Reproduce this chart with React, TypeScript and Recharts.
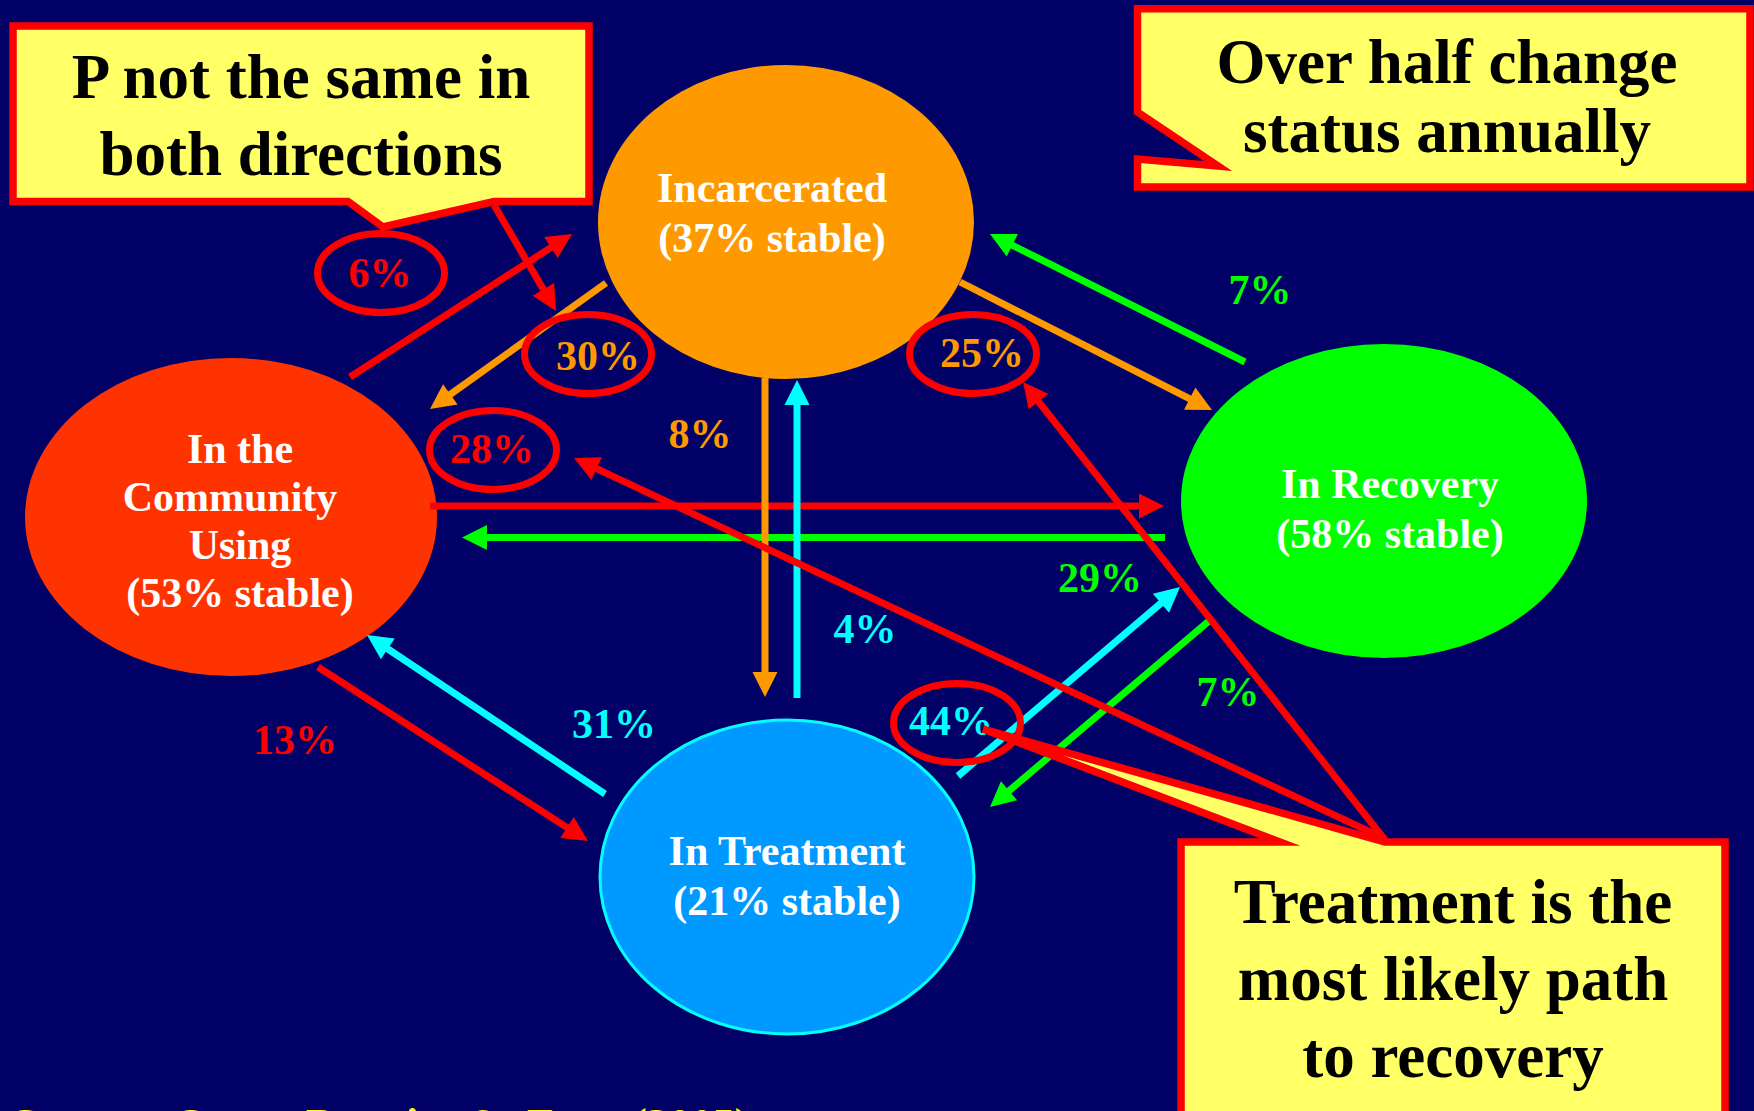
import React from 'react';
import { ScatterChart, Scatter, XAxis, YAxis, ReferenceArea, ReferenceLine, ReferenceDot } from 'recharts';

// ---------------- data (values & text) ----------------
const STATE_LINES: string[][] = [['Incarcerated'], ['In the', 'Community', 'Using'], ['In Recovery'], ['In Treatment']];
const STABLE_PCT: number[] = [37, 53, 58, 21];

// transitions: from state index -> to state index, annual %
const FROM: number[] = [1, 0, 0, 2, 1, 2, 0, 3, 3, 1, 3, 2];
const TO: number[] = [0, 1, 2, 0, 2, 1, 3, 0, 1, 3, 2, 3];
const PCT: number[] = [6, 30, 25, 7, 28, 29, 8, 4, 31, 13, 44, 7];
const CIRCLED: boolean[] = [true, true, true, false, true, false, false, false, false, false, true, false];

const CALLOUT_TEXT: string[][] = [
  ['P not the same in', 'both directions'],
  ['Over half change', 'status annually'],
  ['Treatment is the', 'most likely path', 'to recovery'],
];
const SOURCE_TEXT = 'Source: Scott, Dennis, & Foss (2005)';

// ---------------- layout (diagram coordinates) & styles ----------------
const W = 1754;
const H = 1111;
const SERIF = "'Liberation Serif', 'Times New Roman', serif";
const BG = '#000066';
const RED = '#FF0000';
const YELLOW = '#FFFF66';
const STATE_FILL = ['#FF9900', '#FF3300', '#00FF00', '#0099FF'];
const STATE_ARROW = ['#FF9900', '#FF0000', '#00FF00', '#00FFFF'];

const NODE_BOX = [
  { cx: 786, cy: 222, rx: 188, ry: 157, tx: 772, ty: 202, lh: 50 },
  { cx: 231, cy: 517, rx: 206, ry: 159, tx: 240, ty: 463, lh: 48 },
  { cx: 1384, cy: 501, rx: 203, ry: 157, tx: 1390, ty: 498, lh: 50 },
  { cx: 787, cy: 877, rx: 187, ry: 157, tx: 787, ty: 865, lh: 50 },
];
const NODE_LINE_DX: number[][] = [[0, 0], [0, -10, 0, 0], [0, 0], [0, 0]];

const ARROW_SEG: number[][] = [
  [350, 377, 572, 234],
  [606, 283, 430, 409],
  [960, 282, 1212, 410],
  [1245, 362, 990, 234],
  [430, 506, 1164, 506],
  [1165, 537.5, 462, 537.5],
  [765, 378, 765, 697],
  [797, 698, 797, 380],
  [605, 794, 367, 635],
  [318, 667, 588, 841],
  [958, 776, 1180, 587],
  [1209, 621, 990, 807],
];
const LABEL_XY: number[][] = [
  [380, 287], [598, 370], [982, 367], [1260, 304], [492, 463], [1100, 592],
  [700, 448], [865, 643], [614, 738], [295, 754], [951, 735], [1228, 706],
];
const RING_XY: (number[] | null)[] = [
  [381, 273], [588, 354], [973, 354], null, [493, 450], null, null, null, null, null, [957, 723], null,
];
const RING_RX = 63.5;
const RING_RY = 39.5;

const CALLOUT_ARROWS: number[][] = [
  [494, 205, 556, 311],
  [1383, 838, 574, 458],
  [1385, 840, 1023, 382],
];

const CALLOUT_SHAPES: { pts: { x: number; y: number }[]; closed: boolean }[] = [
  {
    closed: true,
    pts: [
      { x: 13, y: 26 }, { x: 589, y: 26 }, { x: 589, y: 201.5 }, { x: 494, y: 201.5 },
      { x: 383, y: 227 }, { x: 348, y: 201.5 }, { x: 13, y: 201.5 },
    ],
  },
  {
    closed: true,
    pts: [
      { x: 1137.5, y: 8.8 }, { x: 1750, y: 8.8 }, { x: 1750, y: 187 }, { x: 1137.5, y: 187 },
      { x: 1137.5, y: 159 }, { x: 1218, y: 166 }, { x: 1137.5, y: 112 },
    ],
  },
  {
    closed: false,
    pts: [
      { x: 1181, y: 1111 }, { x: 1181, y: 842 }, { x: 1280, y: 842 }, { x: 983, y: 729 },
      { x: 1385, y: 842 }, { x: 1725, y: 842 }, { x: 1725, y: 1111 },
    ],
  },
];
const CALLOUT_TEXT_POS = [
  { x: 301, y: 98, lh: 77 },
  { x: 1447, y: 83, lh: 69 },
  { x: 1453, y: 923, lh: 77 },
];

// ---------------- shapes ----------------
const arrowShape = (color: string) => (p: any) => {
  const { x1, y1, x2, y2 } = p;
  const dx = x2 - x1;
  const dy = y2 - y1;
  const len = Math.hypot(dx, dy) || 1;
  const ux = dx / len;
  const uy = dy / len;
  const HL = 25;
  const HW = 12.5;
  const bx = x2 - ux * HL;
  const by = y2 - uy * HL;
  return (
    <g>
      <line x1={x1} y1={y1} x2={bx + ux * 3} y2={by + uy * 3} stroke={color} strokeWidth={7} />
      <polygon
        points={`${x2},${y2} ${bx - uy * HW},${by + ux * HW} ${bx + uy * HW},${by - ux * HW}`}
        fill={color}
      />
    </g>
  );
};

const ellipseShape = (fill: string, stroke: string, sw: number) => (p: any) => {
  const w = Math.abs(p.width);
  const h = Math.abs(p.height);
  const x = Math.min(p.x, p.x + p.width);
  const y = Math.min(p.y, p.y + p.height);
  return <ellipse cx={x + w / 2} cy={y + h / 2} rx={w / 2} ry={h / 2} fill={fill} stroke={stroke} strokeWidth={sw} />;
};

const textShape = (
  lines: string[],
  color: string,
  size: number,
  lh: number,
  anchor: string,
  dxs?: number[],
  wordSpacing?: number
) => (p: any) => (
  <text
    x={p.cx}
    y={p.cy}
    textAnchor={anchor}
    fill={color}
    fontSize={size}
    fontWeight="bold"
    fontFamily={SERIF}
    style={wordSpacing ? { wordSpacing: `${wordSpacing}px` } : undefined}
  >
    {lines.map((l, i) => (
      <tspan key={i} x={p.cx + (dxs ? dxs[i] || 0 : 0)} dy={i === 0 ? 0 : lh}>
        {l}
      </tspan>
    ))}
  </text>
);

const calloutLine = (closed: boolean) => (props: any) => {
  const pts: { x: number; y: number }[] = props.points || [];
  const d = pts.map((q, i) => `${i ? 'L' : 'M'}${q.x},${q.y}`).join(' ');
  return (
    <g>
      <path d={`${d} Z`} fill={YELLOW} stroke="none" />
      <path d={closed ? `${d} Z` : d} fill="none" stroke={RED} strokeWidth={7.5} strokeLinejoin="miter" strokeMiterlimit={10} />
    </g>
  );
};

const noDot = () => <g />;

export default function App() {
  return (
    <div style={{ position: 'absolute', left: 0, top: 0, width: W, height: H, background: BG, overflow: 'hidden' }}>
      <ScatterChart width={W} height={H} margin={{ top: 0, right: 0, bottom: 0, left: 0 }}>
        <XAxis type="number" dataKey="x" domain={[0, W]} hide scale="linear" allowDataOverflow />
        <YAxis type="number" dataKey="y" domain={[0, H]} reversed hide scale="linear" allowDataOverflow />

        {/* state nodes */}
        {NODE_BOX.map((n, i) => (
          <ReferenceArea
            key={`node-${i}`}
            x1={n.cx - n.rx}
            x2={n.cx + n.rx}
            y1={n.cy - n.ry}
            y2={n.cy + n.ry}
            zIndex={10}
            shape={ellipseShape(STATE_FILL[i], i === 3 ? '#00FFFF' : 'none', i === 3 ? 3 : 0)}
          />
        ))}
        {NODE_BOX.map((n, i) => (
          <ReferenceDot
            key={`node-text-${i}`}
            x={n.tx}
            y={n.ty}
            zIndex={20}
            shape={textShape([...STATE_LINES[i], `(${STABLE_PCT[i]}% stable)`], '#FFFFFF', 42, n.lh, 'middle', NODE_LINE_DX[i])}
          />
        ))}

        {/* transition arrows */}
        {ARROW_SEG.map((s, i) => (
          <ReferenceLine
            key={`arrow-${i}`}
            segment={[{ x: s[0], y: s[1] }, { x: s[2], y: s[3] }]}
            zIndex={30}
            shape={arrowShape(STATE_ARROW[FROM[i]])}
          />
        ))}

        {/* rings around highlighted percentages */}
        {RING_XY.map((r, i) =>
          r && CIRCLED[i] ? (
            <ReferenceArea
              key={`ring-${i}`}
              x1={r[0] - RING_RX}
              x2={r[0] + RING_RX}
              y1={r[1] - RING_RY}
              y2={r[1] + RING_RY}
              zIndex={40}
              shape={ellipseShape('none', RED, 7)}
            />
          ) : null
        )}
        {PCT.map((v, i) => (
          <ReferenceDot
            key={`pct-${i}`}
            x={LABEL_XY[i][0]}
            y={LABEL_XY[i][1]}
            zIndex={45}
            shape={textShape([`${v}%`], STATE_ARROW[FROM[i]], 42, 0, 'middle')}
          />
        ))}

        {/* callouts */}
        {CALLOUT_SHAPES.map((c, i) => (
          <Scatter
            key={`callout-${i}`}
            data={c.pts}
            isAnimationActive={false}
            zIndex={50}
            shape={noDot}
            line={calloutLine(c.closed)}
            lineType="joint"
            fill={YELLOW}
          />
        ))}
        {CALLOUT_TEXT.map((t, i) => (
          <ReferenceDot
            key={`callout-text-${i}`}
            x={CALLOUT_TEXT_POS[i].x}
            y={CALLOUT_TEXT_POS[i].y}
            zIndex={55}
            shape={textShape(t, '#000000', 63, CALLOUT_TEXT_POS[i].lh, 'middle')}
          />
        ))}
        {CALLOUT_ARROWS.map((s, i) => (
          <ReferenceLine
            key={`callout-arrow-${i}`}
            segment={[{ x: s[0], y: s[1] }, { x: s[2], y: s[3] }]}
            zIndex={60}
            shape={arrowShape(RED)}
          />
        ))}

        {/* source, cut by the bottom edge as in the original slide */}
        <ReferenceDot
          x={12}
          y={1139}
          ifOverflow="visible"
          zIndex={60}
          shape={textShape([SOURCE_TEXT], '#FFFF00', 44, 0, 'start', undefined, 11)}
        />
      </ScatterChart>
    </div>
  );
}
